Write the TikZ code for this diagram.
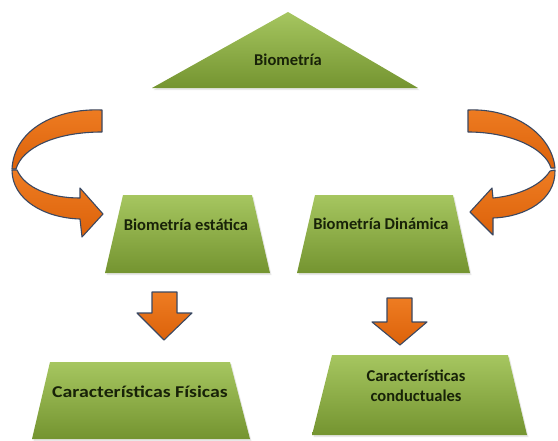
\documentclass[tikz,border=0pt]{standalone}
\usepackage{fontspec}
\setmainfont{Carlito}
\usetikzlibrary{shadows}
\definecolor{gtop}{RGB}{166,198,96}
\definecolor{gbot}{RGB}{116,148,48}
\definecolor{otop}{RGB}{238,124,34}
\definecolor{obot}{RGB}{220,98,10}
\definecolor{oline}{RGB}{58,72,98}
\definecolor{txt}{RGB}{24,34,8}
\tikzset{
  greenshape/.style={top color=gtop, bottom color=gbot, draw=none,
    drop shadow={opacity=0.18, shadow xshift=1.5pt, shadow yshift=-2pt}},
  orangeshape/.style={top color=otop, bottom color=obot, draw=oline,
    line width=1.1pt, line join=round},
  label/.style={text=txt, font=\bfseries\fontsize{16.5}{19}\selectfont, align=center, inner sep=0pt}
}
\begin{document}
\begin{tikzpicture}[x=1pt, y=-1pt]
\useasboundingbox (0,0) rectangle (558,440);

% top triangle
\path[greenshape] (288,12) -- (418,88) -- (152,88) -- cycle;
\node[label] (bio) at (288,60) {Biometría};

% middle trapezoids
\path[greenshape] (123,195) -- (252,195) -- (270,273) -- (105,273) -- cycle;
\node[label] (est) at (186,225) {Biometría estática};
\path[greenshape] (315,195) -- (453,195) -- (470,273) -- (297,273) -- cycle;
\node[label] (din) at (381,224) {Biometría Dinámica};

% bottom trapezoids
\path[greenshape] (50,362) -- (230,362) -- (250,439) -- (32,439) -- cycle;
\node[label] (fis) at (140,392) {\scalebox{1.2}[1]{Características Físicas}};
\path[greenshape] (332,355) -- (508,355) -- (527,435) -- (312,435) -- cycle;
\node[label] (con) at (416,386) {Características\\[1pt]conductuales};

% left curved arrow
\path[orangeshape] (12,170) .. controls (12,200) and (45,218) .. (80,219)
  -- (82,237) -- (103,214) -- (80,188) -- (80,198)
  .. controls (50,198) and (25,188) .. (17,170) -- cycle;
\path[orangeshape] (102,110) .. controls (55,108) and (14,130) .. (12,169)
  -- (16,169) .. controls (22,148) and (55,132) .. (102,132) -- cycle;

% right curved arrow
\path[orangeshape] (555,170) .. controls (556,200) and (525,217) .. (493,218)
  -- (493,235) -- (470,212) -- (492,188) -- (493,198)
  .. controls (515,196) and (540,187) .. (550,171) -- cycle;
\path[orangeshape] (468,110) .. controls (515,108) and (552,135) .. (555,168)
  -- (551,168) .. controls (545,148) and (510,132) .. (468,132) -- cycle;

% straight down arrows
\path[orangeshape] (152,292) -- (177,292) -- (177,313) -- (192,313) -- (164,340)
  -- (137,313) -- (152,313) -- cycle;
\path[orangeshape] (387,298) -- (412,298) -- (412,322) -- (427,322) -- (400,345)
  -- (372,322) -- (387,322) -- cycle;
\end{tikzpicture}
\end{document}
